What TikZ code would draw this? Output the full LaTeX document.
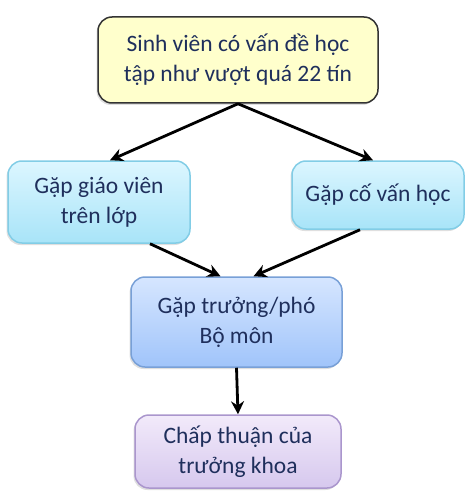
\documentclass[tikz,border=0pt]{standalone}
\usepackage{fontspec}
\setmainfont{Carlito}
\usetikzlibrary{calc,arrows.meta,shadows}
\definecolor{txt}{HTML}{1F2F5C}
\begin{document}
\begin{tikzpicture}[x=1pt,y=-1pt,
  box/.style={rounded corners=14pt, line width=1.5pt, align=center, text=txt,
    font=\fontsize{23.5}{30}\selectfont, inner sep=0pt,
    drop shadow={shadow xshift=-1.5pt, shadow yshift=-2pt, opacity=0.25}},
  arr/.style={line width=2.8pt, -{Stealth[length=13pt,width=13pt]}}]
\useasboundingbox (0,0) rectangle (465,492);
\node[box, draw=black!80, fill={rgb,255:red,255;green,255;blue,204},
  minimum width=280pt, minimum height=86pt] (top) at (238,60)
  {Sinh viên có vấn đề học\\tập như vượt quá 22 tín};
\node[box, draw={rgb,255:red,130;green,205;blue,230}, top color={rgb,255:red,220;green,246;blue,255},
  bottom color={rgb,255:red,168;green,228;blue,248},
  minimum width=182pt, minimum height=82pt] (left) at (99,202)
  {Gặp giáo viên\\trên lớp};
\node[box, draw={rgb,255:red,130;green,205;blue,230}, top color={rgb,255:red,220;green,246;blue,255},
  bottom color={rgb,255:red,168;green,228;blue,248},
  minimum width=172pt, minimum height=68pt] (right) at (378,195)
  {Gặp cố vấn học};
\node[box, draw={rgb,255:red,120;green,160;blue,215}, top color={rgb,255:red,214;green,230;blue,255},
  bottom color={rgb,255:red,160;green,196;blue,250},
  minimum width=211pt, minimum height=90pt] (mid) at (236.5,322)
  {Gặp trưởng/phó\\Bộ môn};
\node[box, draw={rgb,255:red,170;green,150;blue,205}, top color={rgb,255:red,242;green,234;blue,250},
  bottom color={rgb,255:red,214;green,200;blue,238},
  minimum width=206pt, minimum height=73pt] (bot) at (238,451.5)
  {Chấp thuận của\\trưởng khoa};
\draw[arr] (top.south) -- ($(left.north)+(11,0)$);
\draw[arr] (top.south) -- ($(right.north)+(-5,0)$);
\draw[arr] ($(left.south)+(51,0)$) -- ($(mid.north)+(-16,0)$);
\draw[arr] ($(right.south)+(-18,0)$) -- ($(mid.north)+(17,0)$);
\draw[arr] (mid.south) -- (bot.north);
\end{tikzpicture}
\end{document}
